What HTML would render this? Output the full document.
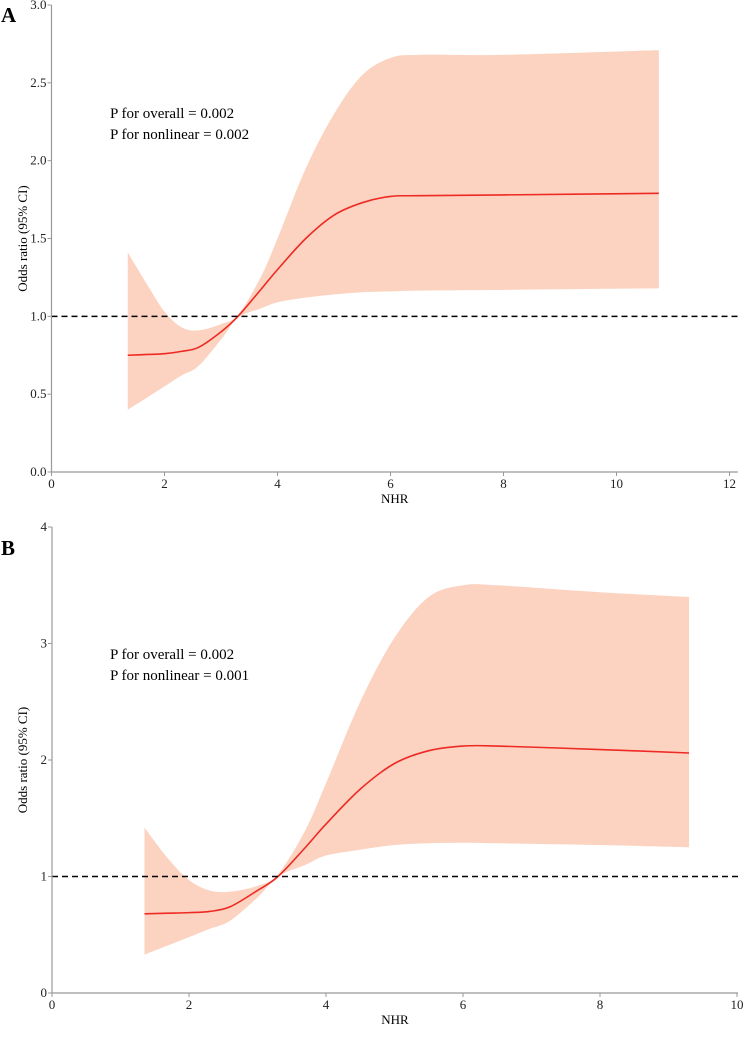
<!DOCTYPE html>
<html><head><meta charset="utf-8"><style>
html,body{margin:0;padding:0;background:#fff;}
svg{display:block;font-family:"Liberation Serif",serif;}
</style></head><body>
<svg id="c" width="750" height="1039" xmlns="http://www.w3.org/2000/svg"></svg>
<script>
// Panel A data
const aX=[1.35,1.7,2,2.3,2.6,3,3.3,3.7,4,4.5,5,5.5,6,6.5,8,10.75];
const aMid=[0.75,0.755,0.76,0.775,0.80,0.9,1.0,1.17,1.3,1.5,1.65,1.73,1.77,1.775,1.78,1.79];
const aUp=[1.41,1.2,1.03,0.93,0.91,0.95,1.01,1.25,1.5,1.95,2.3,2.55,2.66,2.68,2.68,2.71];
const aLo=[0.4,0.48,0.55,0.62,0.68,0.85,0.99,1.05,1.09,1.12,1.14,1.155,1.16,1.165,1.17,1.18];
const aXTicks=[0,2,4,6,8,10,12];
const aYTicks=["0.0","0.5","1.0","1.5","2.0","2.5","3.0"];
// Panel B data
const bX=[1.35,1.7,2,2.3,2.6,3,3.3,3.7,4,4.5,5,5.5,6,6.5,8,9.3];
const bMid=[0.68,0.685,0.69,0.70,0.74,0.88,1.0,1.25,1.45,1.75,1.97,2.08,2.12,2.12,2.09,2.06];
const bUp=[1.42,1.15,0.97,0.88,0.87,0.92,1.02,1.4,1.8,2.5,3.05,3.4,3.5,3.5,3.44,3.4];
const bLo=[0.33,0.41,0.48,0.55,0.62,0.82,1.0,1.1,1.18,1.23,1.27,1.285,1.29,1.285,1.27,1.25];
const bXTicks=[0,2,4,6,8,10];
const bYTicks=["0","1","2","3","4"];

const NS="http://www.w3.org/2000/svg";
const svg=document.getElementById('c');
function mk(t,a,p){const e=document.createElementNS(NS,t);for(const k in a)e.setAttribute(k,a[k]);(p||svg).appendChild(e);return e;}
function smooth(pts){let d=`M${pts[0][0]},${pts[0][1]}`;for(let i=0;i<pts.length-1;i++){const p0=pts[Math.max(i-1,0)],p1=pts[i],p2=pts[i+1],p3=pts[Math.min(i+2,pts.length-1)];const c1=[p1[0]+(p2[0]-p0[0])/6,p1[1]+(p2[1]-p0[1])/6],c2=[p2[0]-(p3[0]-p1[0])/6,p2[1]-(p3[1]-p1[1])/6];d+=`C${c1[0]},${c1[1]} ${c2[0]},${c2[1]} ${p2[0]},${p2[1]}`;}return d;}
function panel(o){
  const g=mk('g',{});
  
  
  const sx=v=>o.x0+(v-o.xmin)*(o.x1-o.x0)/(o.xmax-o.xmin);
  const sy=v=>o.y0-(v-o.ymin)*(o.y0-o.y1)/(o.ymax-o.ymin);
  const up=o.X.map((x,i)=>[sx(x),sy(o.U[i])]),lo=o.X.map((x,i)=>[sx(x),sy(o.L[i])]).reverse();
  let d=smooth(up);d+=`L${lo[0][0]},${lo[0][1]}`+smooth(lo).replace(/^M[^C]*/,'')+'Z';
  const band=mk('path',{d:d,fill:'#fcd3c1',stroke:'none'},g);
  
  
  const line=mk('path',{d:smooth(o.X.map((x,i)=>[sx(x),sy(o.M[i])])),fill:'none',stroke:'#ee2a24','stroke-width':1.6},g);
  
  
  const ref=mk('line',{x1:o.x0,x2:738,y1:sy(1),y2:sy(1),stroke:'#000','stroke-width':1.5,'stroke-dasharray':'6,4'},g);
  
  
  const ax=mk('path',{d:`M${o.x0},${o.y1}V${o.y0}H738`,fill:'none',stroke:'#999','stroke-width':1.2},g);
  
  
  o.xt.forEach(v=>{const x=sx(v);mk('line',{x1:x,x2:x,y1:o.y0,y2:o.y0+4,stroke:'#999'},g);
    const t=mk('text',{x:x,y:o.y0+16,'text-anchor':'middle','font-size':13,fill:'#222'},g);t.textContent=v;
    
    });
  o.yt.forEach(v=>{const y=sy(parseFloat(v));mk('line',{x1:o.x0-4,x2:o.x0,y1:y,y2:y,stroke:'#999'},g);
    const t=mk('text',{x:o.x0-5,y:y+4,'text-anchor':'end','font-size':13,fill:'#222'},g);t.textContent=v;
    
    });
  const xl=mk('text',{x:(o.x0+738)/2,y:o.y0+31,'text-anchor':'middle','font-size':13},g);xl.textContent='NHR';
  
  
  const cy=(o.y0+o.y1)/2;
  const yl=mk('text',{x:0,y:0,transform:`translate(27,${cy}) rotate(-90)`,'text-anchor':'middle','font-size':13},g);yl.textContent='Odds ratio (95% CI)';
  
  
  o.ann.forEach((s,i)=>{const t=mk('text',{x:110,y:o.annY+i*21,'font-size':15},g);t.textContent=s;
    
    });
  const L=mk('text',{x:1,y:o.letterY,'font-size':21,'font-weight':'bold'},g);L.textContent=o.letter;
  
  
}
panel({name:'panel-a',x0:51.5,x1:729.5,xmin:0,xmax:12,y0:472,y1:5,ymin:0,ymax:3,X:aX,M:aMid,U:aUp,L:aLo,xt:aXTicks,yt:aYTicks,ann:['P for overall = 0.002','P for nonlinear = 0.002'],annY:118,letter:'A',letterY:22});
panel({name:'panel-b',x0:52,x1:737,xmin:0,xmax:10,y0:993,y1:527,ymin:0,ymax:4,X:bX,M:bMid,U:bUp,L:bLo,xt:bXTicks,yt:bYTicks,ann:['P for overall = 0.002','P for nonlinear = 0.001'],annY:659,letter:'B',letterY:555});
</script>
</body></html>
